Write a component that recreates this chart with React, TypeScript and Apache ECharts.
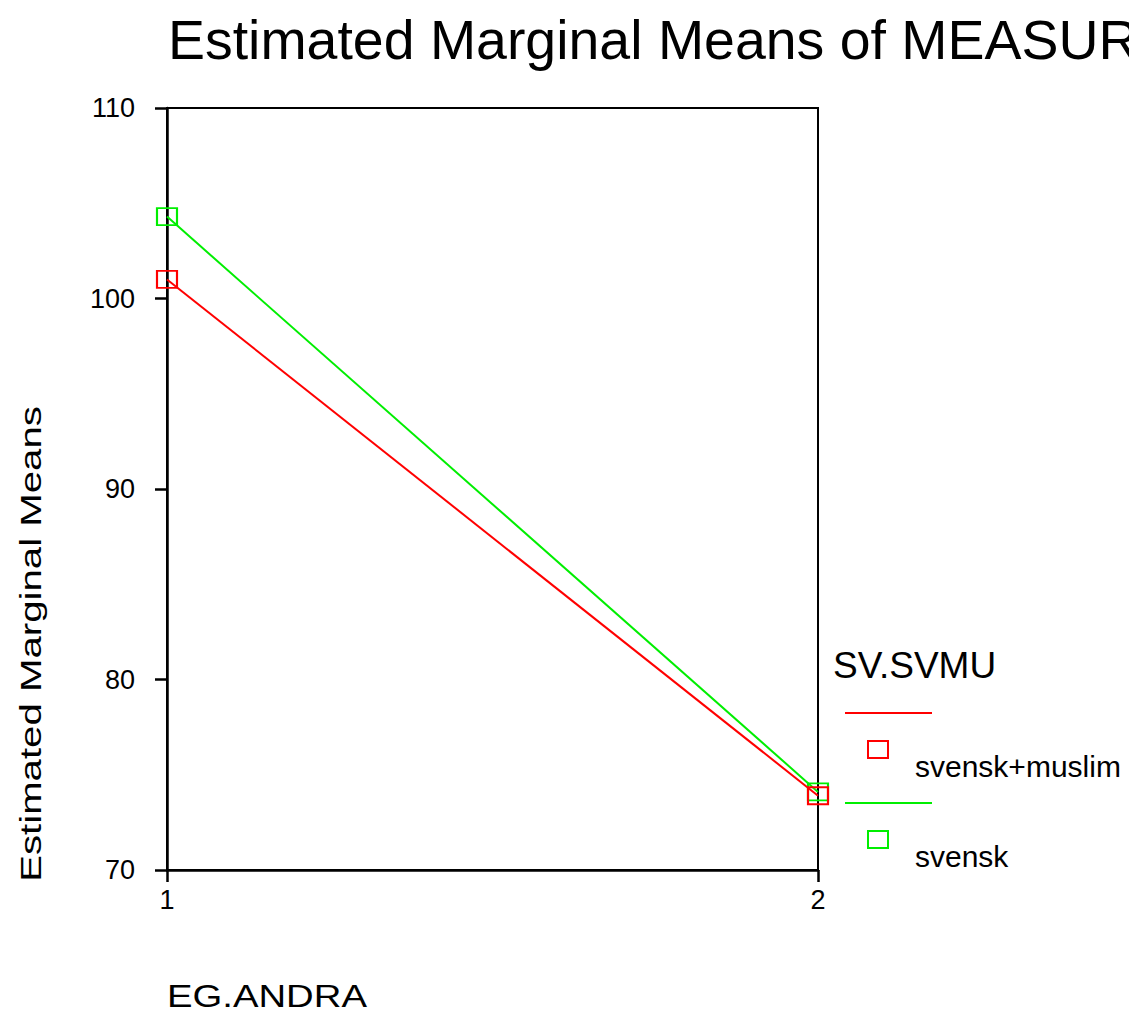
import React, { useEffect, useRef } from "react";
import * as echarts from "echarts";

const categories = ["1", "2"];
const seriesNames = ["svensk+muslim", "svensk"];
const seriesColors = ["#ff0000", "#00ee00"];
const redValues = [101.0, 73.9];
const greenValues = [104.3, 74.1];
const yTicks = { min: 70, max: 110, interval: 10 };
const titleText = "Estimated Marginal Means of MEASURE_1";
const xAxisTitle = "EG.ANDRA";
const yAxisTitle = "Estimated Marginal Means";
const legendTitle = "SV.SVMU";

export default function App() {
  const ref = useRef<HTMLDivElement>(null);
  useEffect(() => {
    const chart = echarts.init(ref.current!, null, { renderer: "svg" });
    const font = "'Liberation Sans', Arial, sans-serif";
    const values = [redValues, greenValues];
    const legendGraphics: any[] = [
      {
        type: "text",
        x: 833,
        y: 665,
        style: {
          text: legendTitle,
          font: `37px ${font}`,
          fill: "#000",
          align: "left",
          verticalAlign: "middle",
        },
      },
    ];
    seriesNames.forEach((name, i) => {
      const base = 713 + i * 90;
      legendGraphics.push(
        {
          type: "line",
          shape: { x1: 845, y1: base, x2: 932, y2: base },
          style: { stroke: seriesColors[i], lineWidth: 2 },
        },
        {
          type: "rect",
          shape: { x: 868, y: base + 28, width: 20, height: 17 },
          style: { stroke: seriesColors[i], lineWidth: 2, fill: "none" },
        },
        {
          type: "text",
          x: 915,
          y: base + 53,
          style: {
            text: name,
            font: `30px ${font}`,
            fill: "#000",
            align: "left",
            verticalAlign: "middle",
          },
        }
      );
    });
    chart.setOption({
      animation: false,
      backgroundColor: "#fff",
      grid: {
        left: 167,
        right: 311,
        top: 108,
        bottom: 142,
        show: true,
        borderColor: "#000",
        borderWidth: 2,
      },
      xAxis: {
        type: "category",
        data: categories,
        boundaryGap: false,
        axisLine: { lineStyle: { color: "#000", width: 2.5 } },
        axisTick: { length: 12, lineStyle: { color: "#000", width: 2.5 } },
        axisLabel: { color: "#000", fontSize: 27, fontFamily: font, margin: 16 },
        splitLine: { show: false },
      },
      yAxis: {
        type: "value",
        min: yTicks.min,
        max: yTicks.max,
        interval: yTicks.interval,
        axisLine: { show: true, lineStyle: { color: "#000", width: 2.5 } },
        axisTick: { show: true, length: 12, lineStyle: { color: "#000", width: 2.5 } },
        axisLabel: { color: "#000", fontSize: 27, fontFamily: font, margin: 32 },
        splitLine: { show: false },
      },
      series: seriesNames.map((name, i) => ({
        name,
        type: "line",
        data: values[i],
        symbol: "rect",
        symbolSize: [20, 17],
        showAllSymbol: true,
        lineStyle: { color: seriesColors[i], width: 2 },
        itemStyle: {
          color: "rgba(0,0,0,0)",
          borderColor: seriesColors[i],
          borderWidth: 2,
        },
        z: 2 + (seriesNames.length - i),
      })),
      graphic: [
        {
          type: "text",
          x: 168,
          y: 40,
          scaleX: 0.99,
          style: {
            text: titleText,
            font: `56px ${font}`,
            fill: "#000",
            align: "left",
            verticalAlign: "middle",
          },
        },
        {
          type: "text",
          x: 31,
          y: 644,
          rotation: Math.PI / 2,
          scaleX: 1.34,
          style: {
            text: yAxisTitle,
            font: `30px ${font}`,
            fill: "#000",
            align: "center",
            verticalAlign: "middle",
          },
        },
        {
          type: "text",
          x: 167,
          y: 996,
          scaleX: 1.235,
          style: {
            text: xAxisTitle,
            font: `31px ${font}`,
            fill: "#000",
            align: "left",
            verticalAlign: "middle",
          },
        },
        ...legendGraphics,
      ],
    });
    return () => chart.dispose();
  }, []);
  return (
    <div
      ref={ref}
      style={{ position: "fixed", left: 0, top: 0, width: 1129, height: 1012 }}
    />
  );
}
